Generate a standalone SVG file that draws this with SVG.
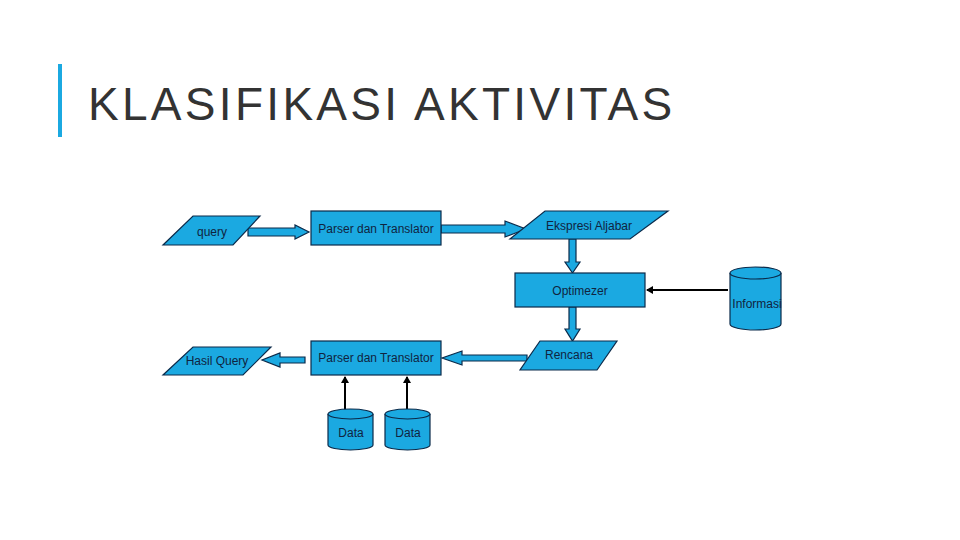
<svg xmlns="http://www.w3.org/2000/svg" width="960" height="540" viewBox="0 0 960 540">
<style>
.s{fill:#1ba9e1;stroke:#0b2a4a;stroke-width:1.2}
.t{font-family:"Liberation Sans",Arial,sans-serif;font-size:12px;fill:#10243f;text-anchor:middle}
.k{stroke:#000;stroke-width:2;fill:none}
</style>
<defs><marker id="a" markerWidth="8" markerHeight="8" refX="6" refY="4" orient="auto" markerUnits="userSpaceOnUse"><path d="M0,0L7,4L0,8z" fill="#000"/></marker></defs>
<rect width="960" height="540" fill="#fff"/>
<rect x="58" y="64" width="4" height="73" fill="#1ba9e1"/>
<text x="88" y="120" font-family="Liberation Sans,Arial,sans-serif" font-size="46" letter-spacing="3.3" fill="#333">KLASIFIKASI AKTIVITAS</text>
<g id="connectors">
<path class="s" d="M248,228H295V225L309,232L295,239V236H248Z"/>
<path class="s" d="M441,225H505V221L526,229L505,237V233H441Z"/>
<path class="s" d="M569,239H576V262H580L572.5,273L565,262H569Z"/>
<path class="s" d="M569,307H576V329H580L572.5,341L565,329H569Z"/>
<path class="s" d="M527,355H462V351L442,358L462,365V361H527Z"/>
<path class="s" d="M305,357H280V353L262,360L280,367V363H305Z"/>
<line class="k" x1="728" y1="290" x2="647" y2="290" marker-end="url(#a)"/>
<line class="k" x1="345" y1="410" x2="345" y2="377" marker-end="url(#a)"/>
<line class="k" x1="407" y1="410" x2="407" y2="377" marker-end="url(#a)"/>
</g>
<g id="query"><path class="s" d="M193,216H260L233,245H163Z"/><text class="t" x="212" y="236">query</text></g>
<g id="parser1"><rect class="s" x="311" y="211" width="130" height="34"/><text class="t" x="376" y="233">Parser dan Translator</text></g>
<g id="ekspresi"><path class="s" d="M545,211H668L630,239H510Z"/><text class="t" x="589" y="230">Ekspresi Aljabar</text></g>
<g id="optimezer"><rect class="s" x="515" y="273" width="130" height="34"/><text class="t" x="580" y="295">Optimezer</text></g>
<g id="informasi"><path class="s" d="M730,273V324A25.5,6 0 0 0 781,324V273"/><ellipse class="s" cx="755.5" cy="273" rx="25.5" ry="6" fill="#8fd4f0"/><text class="t" x="757" y="308">Informasi</text></g>
<g id="rencana"><path class="s" d="M540,341H617L597,370H520Z"/><text class="t" x="569" y="359">Rencana</text></g>
<g id="parser2"><rect class="s" x="311" y="341" width="130" height="34"/><text class="t" x="376" y="362">Parser dan Translator</text></g>
<g id="hasil"><path class="s" d="M193,347H271L243,375H163Z"/><text class="t" x="217" y="365">Hasil Query</text></g>
<g id="data1"><path class="s" d="M328,414V445A22.5,5 0 0 0 373,445V414"/><ellipse class="s" cx="350.5" cy="414" rx="22.5" ry="5" fill="#8fd4f0"/><text class="t" x="351" y="437">Data</text></g>
<g id="data2"><path class="s" d="M385,414V445A22.5,5 0 0 0 430,445V414"/><ellipse class="s" cx="407.5" cy="414" rx="22.5" ry="5" fill="#8fd4f0"/><text class="t" x="408" y="437">Data</text></g>
</svg>
